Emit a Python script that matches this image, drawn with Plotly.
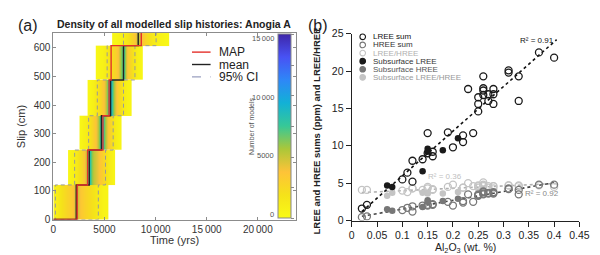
import numpy as np
import plotly.graph_objects as go

W, H = 600, 255
FONT = "Liberation Sans, Arial, sans-serif"

# ---------------- Panel (a) data ----------------
slip_edges = [0, 121, 243, 363, 488, 608, 729]
band_time_edges = [
    [0, 400, 800, 1200, 1600, 2000, 2200, 2400, 2800, 3200, 3600, 4000, 4400, 4800, 5350],
    [1440, 1800, 2200, 2600, 3000, 3300, 3500, 3700, 4000, 4400, 4800, 5200, 5600, 6000],
    [2560, 2900, 3300, 3700, 4100, 4400, 4600, 4800, 5000, 5300, 5700, 6100, 6700],
    [3350, 3700, 4100, 4500, 4900, 5200, 5450, 5650, 5850, 6200, 6600, 7000, 7650],
    [4150, 4600, 5000, 5400, 5800, 6200, 6500, 6750, 6950, 7200, 7600, 8000, 8400, 8770],
    [5750, 6300, 6800, 7300, 7700, 8000, 8200, 8400, 8700, 9100, 9600, 10100, 10700, 11350],
]
band_counts = [
    [800, 1500, 2200, 2700, 3200, 4500, 5500, 3500, 2900, 2400, 1900, 1400, 900, 500],
    [400, 900, 1800, 2800, 4500, 7000, 8000, 5500, 4500, 3500, 2500, 1200, 500],
    [400, 900, 1800, 3000, 4500, 7000, 9500, 7500, 5000, 3000, 1500, 500],
    [400, 900, 1800, 3000, 4500, 7000, 9500, 7000, 4500, 2800, 1400, 500],
    [300, 700, 1300, 2000, 2800, 4000, 6500, 7500, 5000, 3000, 1800, 900, 400],
    [300, 700, 1300, 2200, 3200, 4500, 5500, 4200, 3000, 2000, 1200, 600, 300],
]
map_times = [2330, 3350, 4850, 5450, 5650, 8600]
mean_times = [2240, 3510, 4700, 5600, 6860, 8300]
ci_low_times = [200, 2080, 3450, 4300, 5260, 6860]
ci_high_times = [4400, 5100, 5850, 6860, 7980, 10050]
time_ticks = [0, 5000, 10000, 15000, 20000]
time_tick_text = ["0", "5000", "10\u2009000", "15\u2009000", "20\u2009000"]
slip_ticks = [0, 100, 200, 300, 400, 500, 600]
cbar_ticks = [0, 5000, 10000, 15000]
cbar_tick_text = ["0", "5000", "10\u2009000", "15\u2009000"]

# ---------------- Panel (b) data ----------------
surf_x = [0.02, 0.03, 0.10, 0.11, 0.12, 0.12, 0.14, 0.15, 0.15, 0.16, 0.16, 0.19, 0.20, 0.22, 0.22,
          0.23, 0.24, 0.25, 0.25, 0.25, 0.26, 0.26, 0.26, 0.26, 0.27, 0.27, 0.28, 0.28, 0.28,
          0.31, 0.31, 0.33, 0.33, 0.37, 0.40]
surf_lree = [1.6, 2.1, 5.5, 6.4, 8.0, 5.2, 8.2, 11.7, 9.0, 9.2, 8.6, 11.8, 9.8, 11.4, 10.5,
             17.6, 11.7, 16.5, 15.6, 14.6, 19.3, 17.7, 17.4, 16.8, 16.9, 16.0, 17.6, 16.9, 15.6,
             20.1, 19.8, 19.3, 16.0, 22.5, 21.8]
surf_hree = [0.45, 0.55, 1.4, 1.7, 1.9, 1.2, 2.0, 2.1, 2.0, 2.2, 2.1, 2.5, 2.0, 2.6, 2.4,
             3.5, 2.5, 3.5, 3.4, 3.3, 3.9, 3.8, 3.6, 3.5, 3.7, 3.6, 3.8, 3.7, 3.6,
             4.3, 4.2, 4.1, 3.5, 4.8, 4.8]
surf_ratio = [4.1, 4.1, 4.0, 3.8, 4.3, 4.3, 4.1, 4.5, 4.3, 4.2, 4.1, 4.5, 4.8, 4.4, 4.4,
              5.0, 4.6, 4.7, 4.6, 4.4, 5.1, 4.7, 4.8, 4.6, 4.6, 4.4, 4.6, 4.6, 4.3,
              4.7, 4.7, 4.7, 4.6, 4.7, 4.5]
sub_x = [0.07, 0.08, 0.14, 0.15, 0.15, 0.18, 0.21]
sub_lree = [4.7, 4.5, 6.6, 9.6, 9.2, 9.4, 11.0]
sub_hree = [1.5, 1.3, 1.8, 2.7, 2.5, 2.6, 2.9]
sub_ratio = [3.3, 3.7, 3.7, 3.6, 3.7, 3.6, 3.8]
al_ticks = [0, 0.05, 0.1, 0.15, 0.2, 0.25, 0.3, 0.35, 0.4, 0.45]
al_tick_text = ["0", "0.05", "0.1", "0.15", "0.2", "0.25", "0.3", "0.35", "0.4", "0.45"]
ree_ticks = [0, 5, 10, 15, 20, 25]

C_LREE, C_HREE, C_RATIO = "#1a1a1a", "#777777", "#c4c4c4"

parula_r = [
    [0.0, "rgb(249,251,21)"], [0.125, "rgb(245,226,26)"], [0.25, "rgb(254,195,56)"],
    [0.375, "rgb(171,199,57)"], [0.5, "rgb(55,200,151)"], [0.625, "rgb(18,177,214)"],
    [0.75, "rgb(46,135,247)"], [0.875, "rgb(72,82,244)"], [1.0, "rgb(62,38,168)"],
]

def px(x):
    return x / W

def py(y):
    return 1 - y / H

fig = go.Figure()

# heatmap bands
for i, (te, cnt) in enumerate(zip(band_time_edges, band_counts)):
    lo, hi = slip_edges[i], slip_edges[i + 1]
    fig.add_trace(go.Heatmap(
        x=te, y=[lo, (lo + hi) / 2, hi], z=[cnt, cnt], zsmooth="best",
        coloraxis="coloraxis", xaxis="x", yaxis="y", hoverinfo="skip", showscale=False))

def stair(times):
    xs, ys = [0, times[0]], [0, 0]
    for i, t in enumerate(times):
        if i > 0:
            xs.append(t); ys.append(slip_edges[i])
        xs.append(t); ys.append(slip_edges[i + 1])
    return xs, ys

for times, col, dash in [(ci_low_times, "#9a9a9a", "dash"), (ci_high_times, "#9a9a9a", "dash")]:
    xs, ys = stair(times)
    fig.add_trace(go.Scatter(x=xs, y=ys, mode="lines", line=dict(color=col, width=1, dash="4px,3px"),
                             xaxis="x", yaxis="y", showlegend=False, hoverinfo="skip"))
xs, ys = stair(mean_times)
fig.add_trace(go.Scatter(x=xs, y=ys, mode="lines", line=dict(color="#222222", width=1.4),
                         xaxis="x", yaxis="y", showlegend=False, hoverinfo="skip"))
xs, ys = stair(map_times)
fig.add_trace(go.Scatter(x=xs, y=ys, mode="lines", line=dict(color="#e4312b", width=1.4),
                         xaxis="x", yaxis="y", showlegend=False, hoverinfo="skip"))

# ---------------- Panel (b) traces ----------------
def fit_line(xv, yv, col):
    k, b = np.polyfit(xv, yv, 1)
    xx = np.array([min(xv), max(xv) + 0.005])
    fig.add_trace(go.Scatter(x=xx, y=k * xx + b, mode="lines",
                             line=dict(color=col, width=1.6, dash="dot"),
                             xaxis="x2", yaxis="y2", showlegend=False, hoverinfo="skip"))

fit_line(surf_x + sub_x, surf_ratio + sub_ratio, "#b0b0b0")
fit_line(surf_x + sub_x, surf_hree + sub_hree, "#444444")
fit_line(surf_x + sub_x, surf_lree + sub_lree, "#111111")

for yv, col in [(surf_ratio, C_RATIO), (surf_hree, C_HREE), (surf_lree, C_LREE)]:
    fig.add_trace(go.Scatter(x=surf_x, y=yv, mode="markers",
                             marker=dict(symbol="circle-open", size=7, color=col, line=dict(width=1.3, color=col)),
                             xaxis="x2", yaxis="y2", showlegend=False, hoverinfo="skip"))
for yv, col in [(sub_ratio, C_RATIO), (sub_hree, C_HREE), (sub_lree, C_LREE)]:
    fig.add_trace(go.Scatter(x=sub_x, y=yv, mode="markers",
                             marker=dict(symbol="circle", size=6.5, color=col),
                             xaxis="x2", yaxis="y2", showlegend=False, hoverinfo="skip"))

# ---------------- layout ----------------
axis_a = dict(showline=True, linecolor="#8c8c8c", linewidth=1, mirror="ticks", ticks="inside",
              ticklen=3, tickcolor="#8c8c8c", showgrid=False, zeroline=False,
              tickfont=dict(family=FONT, size=10, color="#333"))
axis_b = dict(showline=True, linecolor="#222", linewidth=1.2, ticks="outside", ticklen=5,
              tickcolor="#222", tickwidth=1.2, showgrid=False, zeroline=False,
              tickfont=dict(family=FONT, size=10.5, color="#222"))

fig.update_layout(
    width=W, height=H, margin=dict(l=0, r=0, t=0, b=0),
    paper_bgcolor="white", plot_bgcolor="white", showlegend=False,
    xaxis=dict(domain=[px(43.3), px(291.7)], range=[0, 23770], tickvals=time_ticks,
               ticktext=time_tick_text, anchor="y", **axis_a),
    yaxis=dict(domain=[py(215.7), py(20)], range=[0, 652], tickvals=slip_ticks, anchor="x", **axis_a),
    xaxis2=dict(domain=[px(348.3), px(581)], range=[0, 0.45], tickvals=al_ticks,
                ticktext=al_tick_text, anchor="y2", **axis_b),
    yaxis2=dict(domain=[py(216.7), py(20.7)], range=[0, 25], tickvals=ree_ticks, anchor="x2", **axis_b),
    coloraxis=dict(
        colorscale=parula_r, cmin=0, cmax=15000,
        colorbar=dict(x=px(273.3), xanchor="left", y=py(118), yanchor="middle",
                      len=184, lenmode="pixels", thickness=13, thicknessmode="pixels",
                      outlinewidth=1, outlinecolor="#888", xpad=0, ypad=0,
                      ticks="outside", ticklen=3, tickcolor="#888",
                      tickvals=[0, 2500, 5000, 7500, 10000, 12500, 15000], showticklabels=False),
    ),
)

ann = []
def text(x, y, s, size, color="#222", bold=False, xanchor="center", yanchor="middle", angle=0):
    if bold:
        s = "<b>" + s + "</b>"
    ann.append(dict(x=px(x), y=py(y), xref="paper", yref="paper", text=s, showarrow=False,
                    xanchor=xanchor, yanchor=yanchor, textangle=angle,
                    font=dict(family=FONT, size=size, color=color)))

text(5, 12, "(a)", 16, xanchor="left")
text(302, 12, "(b)", 16, xanchor="left")
text(167, 11, "Density of all modelled slip histories: Anogia A", 10.5, bold=True)
text(167, 237, "Time (yrs)", 11, color="#333")
text(11, 118, "Slip (cm)", 11, color="#333", angle=-90)
for v, s in zip(cbar_ticks, cbar_tick_text):
    text(271, 210 - v / 15000 * 184, s, 7.5, color="#555", xanchor="right")
text(246, 118, "Number of models", 7, color="#555", angle=-90)

# left legend
leg_a = [("MAP", "#e4312b", "solid"), ("mean", "#222222", "solid"), ("95% CI", "#9aa0c0", "dash")]
shapes = []
for i, (name, col, dash) in enumerate(leg_a):
    yy = 40 + i * 13
    shapes.append(dict(type="line", xref="paper", yref="paper", x0=px(185), x1=px(204), y0=py(yy), y1=py(yy),
                       line=dict(color=col, width=1.4, dash=dash)))
    text(211, yy, name, 12, color="#222", xanchor="left")

# right legend
leg_b = [("LREE sum", C_LREE, False, "#111"), ("HREE sum", C_HREE, False, "#333"),
         ("LREE/HREE", C_RATIO, False, "#b0b0b0"), ("Subsurface LREE", C_LREE, True, "#333"),
         ("Subsurface HREE", C_HREE, True, "#555"), ("Subsurface LREE/HREE", C_RATIO, True, "#999")]
for i, (name, col, filled, tcol) in enumerate(leg_b):
    yy = 24 + i * 8.5
    shapes.append(dict(type="circle", xref="paper", yref="paper", xsizemode="pixel", ysizemode="pixel",
                       xanchor=px(359.5), yanchor=py(yy), x0=-2.8, x1=2.8, y0=-2.8, y1=2.8,
                       line=dict(color=col, width=1.1), fillcolor=col if filled else "rgba(0,0,0,0)"))
    text(368, yy, name, 8, color=tcol, xanchor="left")

text(538, 28, "R² = 0.91", 8, color="#111")
text(444, 171, "R² = 0.36", 8, color="#c0c0c0")
text(543, 188.5, "R² = 0.92", 8, color="#888")
text(465, 246, "Al<sub>2</sub>O<sub>3</sub> (wt. %)", 10.5, color="#222")
text(312, 123, "LREE and HREE sums (ppm) and LREE/HREE", 9.5, color="#222", bold=True, angle=-90)

fig.update_layout(annotations=ann, shapes=shapes)
fig.write_html("out.html")
